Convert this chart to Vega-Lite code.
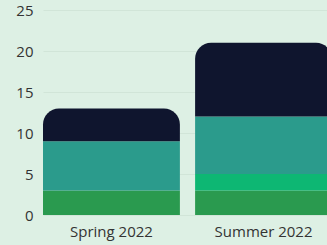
{
  "$schema": "https://vega.github.io/schema/vega-lite/v6.json",
  "autosize": {"type": "none"},
  "padding": {"left": 43, "top": 10, "right": 0, "bottom": 30},
  "width": 289,
  "height": 205,
  "background": "#ddf0e4",
  "config": {"view": {"stroke": null}, "font": "Open Sans"},
  "data": {
    "values": [
      {"season": "Spring 2022", "segment": "Group A", "rank": 1, "value": 3},
      {"season": "Spring 2022", "segment": "Group C", "rank": 3, "value": 6},
      {"season": "Spring 2022", "segment": "Group D", "rank": 4, "value": 4},
      {"season": "Summer 2022", "segment": "Group A", "rank": 1, "value": 3},
      {"season": "Summer 2022", "segment": "Group B", "rank": 2, "value": 2},
      {"season": "Summer 2022", "segment": "Group C", "rank": 3, "value": 7},
      {"season": "Summer 2022", "segment": "Group D", "rank": 4, "value": 9}
    ]
  },
  "transform": [
    {"stack": "value", "groupby": ["season"], "sort": [{"field": "rank", "order": "ascending"}], "as": ["v0", "v1"]}
  ],
  "encoding": {
    "x": {
      "field": "season", "type": "nominal", "title": null,
      "scale": {"paddingInner": 0.1, "paddingOuter": 0},
      "axis": {"labelAngle": 0, "labelFontSize": 15, "labelColor": "#333333", "ticks": false, "domain": false, "labelPadding": 9}
    },
    "y": {
      "field": "v1", "type": "quantitative", "title": null,
      "scale": {"domain": [0, 25], "nice": false},
      "axis": {"values": [0, 5, 10, 15, 20, 25], "labelFontSize": 15, "labelColor": "#333333", "ticks": false, "domain": false, "labelPadding": 10, "gridColor": "#c9ddd1", "gridOpacity": 0.6}
    },
    "y2": {"field": "v0"},
    "color": {
      "field": "segment", "type": "nominal", "legend": null,
      "scale": {"domain": ["Group A", "Group B", "Group C", "Group D"], "range": ["#2a9a4f", "#0db773", "#2b9b8c", "#0f152e"]}
    }
  },
  "layer": [
    {"transform": [{"filter": "datum.rank < 4"}], "mark": {"type": "bar"}},
    {"transform": [{"filter": "datum.rank == 4"}], "mark": {"type": "bar", "cornerRadiusTopLeft": 16, "cornerRadiusTopRight": 16}}
  ]
}
